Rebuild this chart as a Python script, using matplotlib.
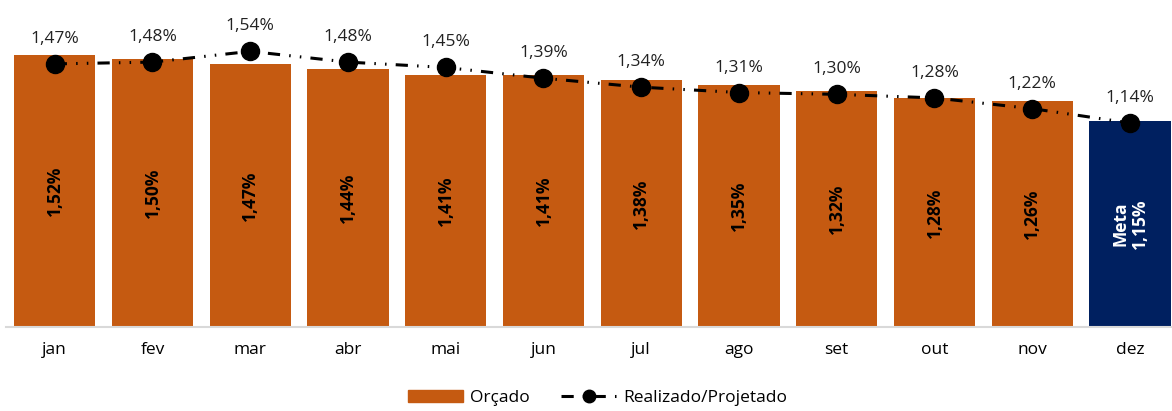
import matplotlib.pyplot as plt
from matplotlib.lines import Line2D
from matplotlib.patches import Patch

plt.rcParams['font.family'] = ['Open Sans', 'DejaVu Sans']

months = ['jan', 'fev', 'mar', 'abr', 'mai', 'jun', 'jul', 'ago', 'set', 'out', 'nov', 'dez']
orcado = [1.52, 1.50, 1.47, 1.44, 1.41, 1.41, 1.38, 1.35, 1.32, 1.28, 1.26, 1.15]
realizado = [1.47, 1.48, 1.54, 1.48, 1.45, 1.39, 1.34, 1.31, 1.30, 1.28, 1.22, 1.14]

orange = '#C55A11'
navy = '#002060'


def pct(v):
    return f'{v:.2f}%'.replace('.', ',')


fig = plt.figure(figsize=(11.72, 4.11), dpi=100)
ax = fig.add_axes([0.005, 0.2044, 0.995, 0.7956])

x = list(range(len(months)))
colors = [orange] * 11 + [navy]
ax.bar(x, orcado, width=0.83, color=colors, zorder=1)

ax.plot(x, realizado, color='black', lw=2.2, marker='o', markersize=13,
        linestyle=(0, (4, 3, 0.5, 3, 0.5, 3)), zorder=3)

for i, v in enumerate(realizado):
    ax.annotate(pct(v), (i, v), xytext=(0, 18), textcoords='offset points',
                ha='center', va='center', fontsize=12.5, color='#222222')

for i, v in enumerate(orcado[:-1]):
    ax.text(i, v / 2, pct(v), rotation=90, ha='center', va='center',
            fontsize=12.5, fontweight='bold', color='black')
ax.text(11, orcado[-1] / 2, 'Meta\n' + pct(orcado[-1]), rotation=90,
        ha='center', va='center', fontsize=12.5, fontweight='bold',
        color='white', linespacing=1.1)

ax.set_xlim(-0.5, 11.43)
ax.set_ylim(0, 1.827)
ax.set_yticks([])
ax.set_xticks(x)
ax.set_xticklabels(months, fontsize=12.5)
ax.tick_params(axis='x', length=0, pad=11)
for s in ['top', 'right', 'left']:
    ax.spines[s].set_visible(False)
ax.spines['bottom'].set_color('#d9d9d9')
ax.spines['bottom'].set_linewidth(1.5)

handles = [Patch(color=orange, label='Orçado'),
           Line2D([0], [0], color='black', lw=2.2, marker='o', markersize=9,
                  linestyle=(0, (4, 3, 0.5, 3)), label='Realizado/Projetado')]
fig.legend(handles=handles, loc='center', bbox_to_anchor=(0.51, 0.031),
           ncol=2, frameon=False, fontsize=12.5, handlelength=3.2,
           columnspacing=1.8, handletextpad=0.4)

fig.savefig('out.png', dpi=100)
